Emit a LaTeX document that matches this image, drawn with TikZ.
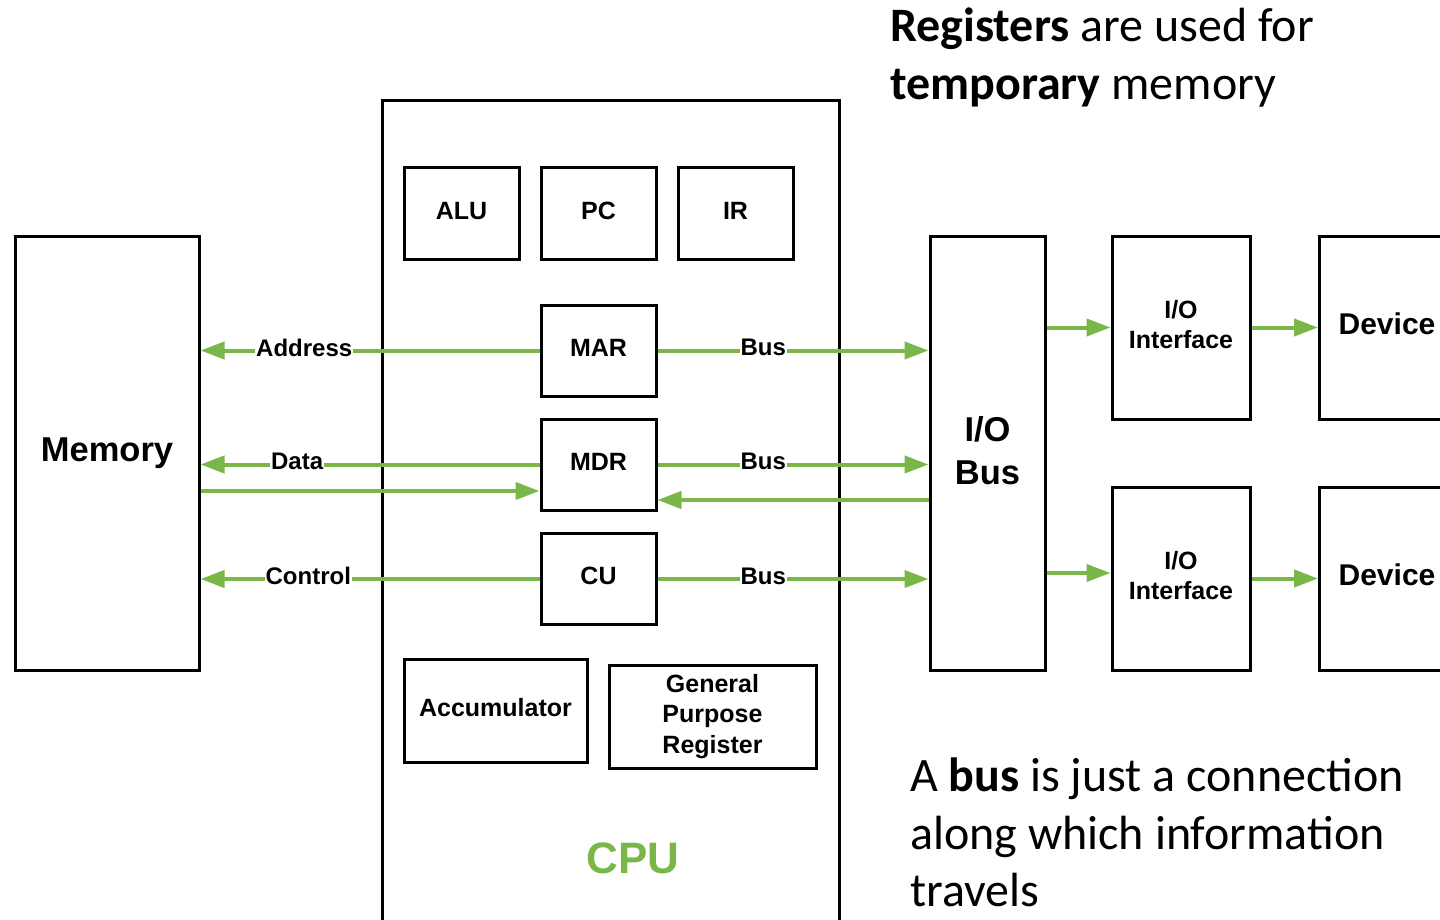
\documentclass[tikz,border=0pt]{standalone}
\usepackage{fontspec}
\setmainfont{Liberation Sans}
\newfontfamily\calibri{Carlito}
\usetikzlibrary{arrows.meta,calc}
\definecolor{busgreen}{RGB}{122,182,72}

\begin{document}
\begin{tikzpicture}[x=1pt,y=-1pt,
  box/.style={draw,line width=3pt,inner sep=0pt,align=center,text depth=6pt,
    font=\fontsize{25}{30.5}\selectfont\bfseries},
  bigbox/.style={box,font=\fontsize{34.5}{43}\selectfont\bfseries},
  devbox/.style={box,font=\fontsize{30}{36}\selectfont\bfseries},
  bus/.style={draw=busgreen,line width=4pt,-{Triangle[length=24pt,width=17pt]}},
  lbl/.style={fill=white,inner sep=1pt,text=black,yshift=3pt,
    font=\fontsize{24}{28}\selectfont\bfseries},
  note/.style={anchor=north west,align=left,inner sep=0pt,
    font=\calibri\fontsize{48}{57.5}\selectfont}
]
\useasboundingbox (0,0) rectangle (1440,920);
\clip (0,0) rectangle (1440,920);

% Memory
\node[bigbox,minimum width=184,minimum height=434] (mem) at (107,453) {Memory};

% CPU
\node[box,minimum width=457,minimum height=860,anchor=north west] (cpu) at (381,99) {};
\node[text=busgreen,font=\fontsize{44}{50}\selectfont\bfseries] (cpulbl) at (633,858) {CPU};

\node[box,minimum width=115,minimum height=91] (alu) at (461.5,213.5) {ALU};
\node[box,minimum width=115,minimum height=91] (pc) at (598.5,213.5) {PC};
\node[box,minimum width=115,minimum height=91] (ir) at (735.5,213.5) {IR};

\node[box,minimum width=115,minimum height=91] (mar) at (598.5,350.5) {MAR};
\node[box,minimum width=115,minimum height=91] (mdr) at (598.5,464.5) {MDR};
\node[box,minimum width=115,minimum height=91] (cu) at (598.5,579) {CU};

\node[box,minimum width=183,minimum height=103] (acc) at (495.5,710.5) {Accumulator};
\node[box,minimum width=207,minimum height=103] (gpr) at (712.5,716.5) {General\\Purpose\\Register};

% I/O side
\node[bigbox,minimum width=115,minimum height=434] (iobus) at (987.5,453) {I/O\\Bus};
\node[box,minimum width=138,minimum height=183] (if1) at (1181,327.5) {I/O\\Interface};
\node[box,minimum width=138,minimum height=183] (if2) at (1181,578.5) {I/O\\Interface};
\node[devbox,minimum width=160,minimum height=183,anchor=west] (dev1) at (1318,327.5) {};
\node[devbox,minimum width=160,minimum height=183,anchor=west] (dev2) at (1318,578.5) {};
\node[font=\fontsize{30}{36}\selectfont\bfseries] (dev1t) at (1387,324) {Device};
\node[font=\fontsize{30}{36}\selectfont\bfseries] (dev2t) at (1387,575) {Device};

% Connectors CPU <-> Memory
\draw[bus] (mar.west) -- (mem.east |- mar.west) node[lbl,pos=0.694] {Address};
\draw[bus] (mdr.west) -- (mem.east |- mdr.west) node[lbl,pos=0.715] {Data};
\coordinate (d2) at ($(mdr.west)+(0,26.5)$);
\draw[bus] (mem.east |- d2) -- (d2);
\draw[bus] (cu.west) -- (mem.east |- cu.west) node[lbl,pos=0.682] {Control};

% Connectors CPU <-> I/O bus
\draw[bus] (mar.east) -- (iobus.west |- mar.east) node[lbl,pos=0.39] {Bus};
\draw[bus] (mdr.east) -- (iobus.west |- mdr.east) node[lbl,pos=0.39] {Bus};
\coordinate (d3) at ($(mdr.east)+(0,35.5)$);
\draw[bus] (iobus.west |- d3) -- (d3);
\draw[bus] (cu.east) -- (iobus.west |- cu.east) node[lbl,pos=0.39] {Bus};

% I/O bus -> interfaces -> devices
\draw[bus] (iobus.east |- if1.west) -- (if1.west);
\draw[bus] (if1.east) -- (dev1.west);
\coordinate (i2) at ($(if2.west)+(0,-5.5)$);
\draw[bus] (iobus.east |- i2) -- (i2);
\draw[bus] (if2.east) -- (dev2.west);

% Notes
\node[note] (top) at (890,8) {\textbf{Registers} are used for\\\textbf{temporary} memory};
\node[note] (bot) at (910,758) {A \textbf{bus} is just a connection\\along which information\\travels};
\end{tikzpicture}
\end{document}
